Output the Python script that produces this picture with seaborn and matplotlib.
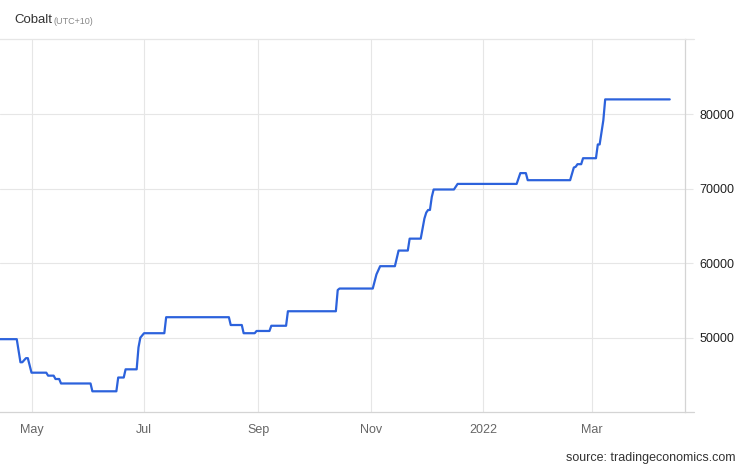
import matplotlib
matplotlib.use("Agg")
import matplotlib.pyplot as plt
from matplotlib.lines import Line2D
import pandas as pd
import seaborn as sns

# ---- data (change points of the cobalt price series, USD/T) ----
dates = [
    "2021-04-13", "2021-04-23", "2021-04-25", "2021-04-26", "2021-04-28", "2021-04-29",
    "2021-05-01", "2021-05-09", "2021-05-10", "2021-05-13", "2021-05-14", "2021-05-16",
    "2021-05-17", "2021-06-02", "2021-06-03", "2021-06-16", "2021-06-17", "2021-06-20",
    "2021-06-21", "2021-06-27", "2021-06-28", "2021-06-29", "2021-07-01", "2021-07-12",
    "2021-07-13", "2021-08-16", "2021-08-17", "2021-08-23", "2021-08-24", "2021-08-30",
    "2021-08-31", "2021-09-07", "2021-09-08", "2021-09-16", "2021-09-17", "2021-10-13",
    "2021-10-14", "2021-10-15", "2021-11-02", "2021-11-04", "2021-11-06", "2021-11-14",
    "2021-11-16", "2021-11-21", "2021-11-22", "2021-11-28", "2021-11-30", "2021-12-01",
    "2021-12-02", "2021-12-03", "2021-12-04", "2021-12-05", "2021-12-16", "2021-12-18",
    "2022-01-19", "2022-01-21", "2022-01-24", "2022-01-25", "2022-02-17", "2022-02-19",
    "2022-02-20", "2022-02-21", "2022-02-23", "2022-02-24", "2022-03-03", "2022-03-04",
    "2022-03-05", "2022-03-07", "2022-03-08", "2022-04-12",
]
prices = [
    49800, 49800, 46700, 46700, 47250, 47250,
    45300, 45300, 44900, 44900, 44450, 44450,
    43850, 43850, 42800, 42800, 44650, 44650,
    45750, 45750, 48700, 50000, 50600, 50600,
    52750, 52750, 51700, 51700, 50600, 50600,
    50900, 50900, 51600, 51600, 53550, 53550,
    56400, 56600, 56600, 58500, 59600, 59600,
    61700, 61700, 63300, 63300, 66000, 66800,
    67150, 67150, 68900, 69900, 69900, 70650,
    70650, 72100, 72100, 71150, 71150, 72850,
    72950, 73300, 73300, 74100, 74100, 75950,
    75950, 79200, 82000, 82000,
]
y_ticks = [50000, 60000, 70000, 80000]
x_tick_dates = ["2021-05-01", "2021-07-01", "2021-09-01", "2021-11-01", "2022-01-01", "2022-03-01"]
x_tick_labels = ["May", "Jul", "Sep", "Nov", "2022", "Mar"]
title = "Cobalt"
subtitle = "(UTC+10)"
source = "source: tradingeconomics.com"

df = pd.DataFrame({"date": pd.to_datetime(dates), "price": prices})

sns.set_theme(style="white")
plt.rcParams["font.family"] = ["Liberation Sans", "DejaVu Sans"]

W, H = 746, 468
fig = plt.figure(figsize=(W / 100, H / 100), dpi=100)
left, right, top, bottom = 0, 684.5, 39, 411.7
ax = fig.add_axes([left / W, 1 - bottom / H, (right - left) / W, (bottom - top) / H])

grid_c = "#e6e6e6"
axis_c = "#d4d4d4"

sns.lineplot(data=df, x="date", y="price", ax=ax, color="#2c62dc", linewidth=1.6, zorder=3)

ax.set_xlim(pd.Timestamp("2021-04-13 22:00"), pd.Timestamp("2022-04-20 00:00"))
ax.set_ylim(40060, 90110)

ax.yaxis.tick_right()
ax.set_yticks(y_ticks)
ax.set_yticklabels([str(v) for v in y_ticks])
ax.set_xticks(pd.to_datetime(x_tick_dates))
ax.set_xticklabels(x_tick_labels)

ax.grid(True, color=grid_c, linewidth=0.8)
ax.tick_params(axis="y", which="both", length=6, width=0.8, color=grid_c,
               pad=5, labelsize=9, labelcolor="#222222")
ax.tick_params(axis="x", which="both", length=0, pad=9, labelsize=9, labelcolor="#666666")
ax.set_xlabel("")
ax.set_ylabel("")

ax.spines["left"].set_visible(False)
for s in ["right", "bottom", "top"]:
    ax.spines[s].set_color(axis_c)
    ax.spines[s].set_linewidth(0.9)
ax.spines["top"].set_color(grid_c)

# extend top & bottom lines slightly past the right axis
for yy, c in [(1.0, grid_c), (0.0, axis_c)]:
    ax.add_line(Line2D([1.0, 1.0 + 9 / (right - left)], [yy, yy], transform=ax.transAxes,
                       color=c, linewidth=0.9, clip_on=False))

fig.text(14 / W, 1 - 20 / H, title, fontsize=9.5, color="#333333", va="center", ha="left")
fig.text(53 / W, 1 - 21 / H, subtitle, fontsize=6.5, color="#888888", va="center", ha="left")
fig.text(736 / W, 1 - 458 / H, source, fontsize=9, color="#333333", va="center", ha="right")

fig.savefig("out.png", dpi=100, facecolor="white")
